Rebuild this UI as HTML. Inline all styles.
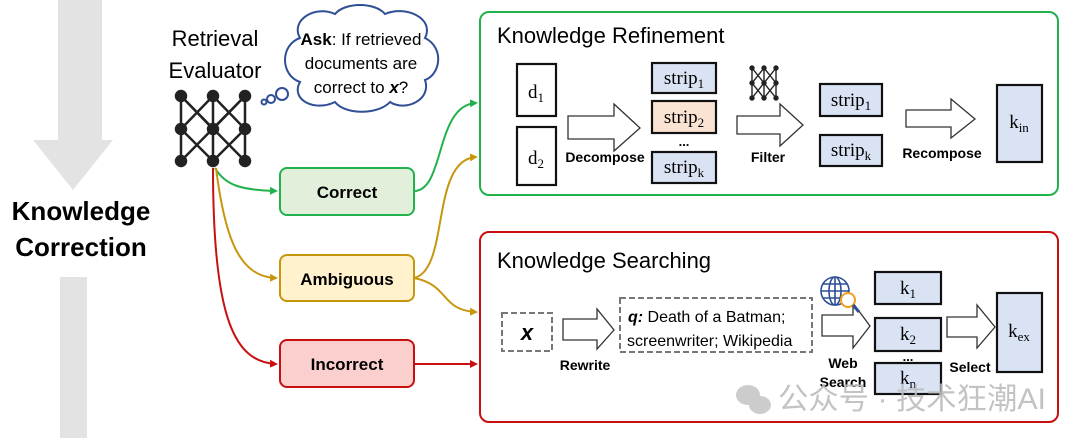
<!DOCTYPE html>
<html><head><meta charset="utf-8"><style>
html,body{margin:0;padding:0;background:#fff;}
svg{display:block;}
text{font-family:"Liberation Sans","Noto Sans CJK SC",sans-serif;}
.s{font-family:"Liberation Serif",serif;font-size:19px;}
.b{font-weight:bold;font-size:14px;}
</style></head><body>
<svg width="1080" height="438" viewBox="0 0 1080 438" xmlns="http://www.w3.org/2000/svg">
<defs>
<marker id="ag" markerWidth="8" markerHeight="8" refX="6" refY="4" orient="auto" markerUnits="userSpaceOnUse"><path d="M0,0 L8,4 L0,8 z" fill="#22b24c"/></marker>
<marker id="ay" markerWidth="8" markerHeight="8" refX="6" refY="4" orient="auto" markerUnits="userSpaceOnUse"><path d="M0,0 L8,4 L0,8 z" fill="#c8960c"/></marker>
<marker id="ar" markerWidth="8" markerHeight="8" refX="6" refY="4" orient="auto" markerUnits="userSpaceOnUse"><path d="M0,0 L8,4 L0,8 z" fill="#c81010"/></marker>
</defs>
<rect x="58" y="0" width="44" height="140" fill="#e3e3e3"/>
<polygon points="33,140 113,140 73,190" fill="#e3e3e3"/>
<rect x="60" y="277" width="27" height="161" fill="#e3e3e3"/>
<text x="81" y="220" font-size="26" font-weight="bold" text-anchor="middle">Knowledge</text>
<text x="81" y="256" font-size="26" font-weight="bold" text-anchor="middle">Correction</text>
<text x="215" y="46" font-size="22" text-anchor="middle">Retrieval</text>
<text x="215" y="78" font-size="22" text-anchor="middle">Evaluator</text>
<g stroke="#222" stroke-width="2.5" fill="#222">
<path d="M181,96 V161 M213,96 V161 M245,96 V161 M181,96 L213,129 L245,96 M181,96 L245,161 M245,96 L181,161 M181,129 L213,96 L245,129 L213,161 L181,129" fill="none"/>
<circle cx="181" cy="96" r="5"/><circle cx="213" cy="96" r="5"/><circle cx="245" cy="96" r="5"/>
<circle cx="181" cy="129" r="5"/><circle cx="213" cy="129" r="5"/><circle cx="245" cy="129" r="5"/>
<circle cx="181" cy="161" r="5"/><circle cx="213" cy="161" r="5"/><circle cx="245" cy="161" r="5"/>
</g>
<g fill="#fff" stroke="#2f4f95" stroke-width="2">
<path d="M300,38 C290,20 315,5 335,14 C345,2 375,2 385,14 C405,5 435,18 425,38 C445,48 440,75 425,80 C432,100 405,112 390,102 C378,115 345,115 335,102 C315,112 290,100 300,82 C280,75 280,45 300,38 z"/>
<circle cx="282" cy="94" r="6"/><circle cx="271" cy="99" r="4"/><circle cx="264" cy="102" r="2.5"/>
</g>
<text x="361" y="45" font-size="17" text-anchor="middle"><tspan font-weight="bold">Ask</tspan>: If retrieved</text>
<text x="361" y="69" font-size="17" text-anchor="middle">documents are</text>
<text x="361" y="93" font-size="17" text-anchor="middle">correct to <tspan font-weight="bold" font-style="italic">x</tspan>?</text>
<path d="M215,168 C225,185 240,190 276,191" fill="none" stroke="#22b24c" stroke-width="2" marker-end="url(#ag)"/>
<path d="M216,168 C225,240 240,277 276,278" fill="none" stroke="#c8960c" stroke-width="2" marker-end="url(#ay)"/>
<path d="M213,168 C213,320 235,362 276,364" fill="none" stroke="#c81010" stroke-width="2" marker-end="url(#ar)"/>
<path d="M414,191 C445,191 435,105 476,103" fill="none" stroke="#22b24c" stroke-width="2" marker-end="url(#ag)"/>
<path d="M414,278 C450,270 430,160 476,157" fill="none" stroke="#c8960c" stroke-width="2" marker-end="url(#ay)"/>
<path d="M414,278 C450,285 440,310 476,312" fill="none" stroke="#c8960c" stroke-width="2" marker-end="url(#ay)"/>
<path d="M414,364 L476,364" fill="none" stroke="#c81010" stroke-width="2" marker-end="url(#ar)"/>
<rect x="280" y="168" width="134" height="47" rx="7" fill="#e2efda" stroke="#22b24c" stroke-width="2"/>
<text x="347" y="198" text-anchor="middle" font-size="17" font-weight="bold">Correct</text>
<rect x="280" y="255" width="134" height="46" rx="7" fill="#fff2cc" stroke="#c8960c" stroke-width="2"/>
<text x="347" y="285" text-anchor="middle" font-size="17" font-weight="bold">Ambiguous</text>
<rect x="280" y="340" width="134" height="47" rx="7" fill="#fccfcf" stroke="#c81010" stroke-width="2"/>
<text x="347" y="370" text-anchor="middle" font-size="17" font-weight="bold">Incorrect</text>
<rect x="480" y="12" width="578" height="183" rx="9" fill="none" stroke="#22b24c" stroke-width="2"/>
<text x="497" y="43" font-size="22">Knowledge Refinement</text>
<g stroke="#111" stroke-width="2.2">
<rect x="517" y="64" width="39" height="52" fill="#fff"/>
<rect x="517" y="127" width="39" height="58" fill="#fff"/>
<rect x="652" y="63" width="64" height="30" fill="#dae3f3"/>
<rect x="652" y="101" width="64" height="32" fill="#fbe3d4"/>
<rect x="652" y="152" width="64" height="31" fill="#dae3f3"/>
<rect x="820" y="84" width="62" height="32" fill="#dae3f3"/>
<rect x="820" y="135" width="62" height="31" fill="#dae3f3"/>
<rect x="997" y="85" width="45" height="77" fill="#dae3f3"/>
</g>
<text class="s" x="536" y="98" text-anchor="middle">d<tspan font-size="13" dy="4">1</tspan></text>
<text class="s" x="536" y="164" text-anchor="middle">d<tspan font-size="13" dy="4">2</tspan></text>
<text class="s" x="684" y="84" text-anchor="middle">strip<tspan font-size="13" dy="4">1</tspan></text>
<text class="s" x="684" y="123" text-anchor="middle">strip<tspan font-size="13" dy="4">2</tspan></text>
<text x="684" y="146" font-size="13" font-weight="bold" text-anchor="middle">...</text>
<text class="s" x="684" y="173" text-anchor="middle">strip<tspan font-size="13" dy="4">k</tspan></text>
<text class="s" x="851" y="106" text-anchor="middle">strip<tspan font-size="13" dy="4">1</tspan></text>
<text class="s" x="851" y="156" text-anchor="middle">strip<tspan font-size="13" dy="4">k</tspan></text>
<text class="s" x="1019" y="128" text-anchor="middle">k<tspan font-size="13" dy="4">in</tspan></text>
<g fill="#fff" stroke="#333" stroke-width="1.3">
<polygon points="568,116 614,116 614,104 640,128 614,151 614,139 568,139"/>
<polygon points="737,116 780,116 780,104 803,125 780,146 780,134 737,134"/>
<polygon points="906,110 951,110 951,99 975,119 951,138 951,127 906,127"/>
</g>
<text class="b" x="605" y="162" text-anchor="middle">Decompose</text>
<text class="b" x="768" y="162" text-anchor="middle">Filter</text>
<text class="b" x="942" y="158" text-anchor="middle">Recompose</text>
<g stroke="#222" stroke-width="1.4" fill="#222">
<path d="M752,68 V98 M764,68 V98 M776,68 V98 M752,68 L776,98 M776,68 L752,98 M752,83 L764,68 L776,83 L764,98 z" fill="none"/>
<circle cx="752" cy="68" r="2"/><circle cx="764" cy="68" r="2"/><circle cx="776" cy="68" r="2"/>
<circle cx="752" cy="83" r="2"/><circle cx="764" cy="83" r="2"/><circle cx="776" cy="83" r="2"/>
<circle cx="752" cy="98" r="2"/><circle cx="764" cy="98" r="2"/><circle cx="776" cy="98" r="2"/>
</g>
<rect x="480" y="232" width="578" height="190" rx="9" fill="none" stroke="#c81010" stroke-width="2"/>
<text x="497" y="268" font-size="22">Knowledge Searching</text>
<rect x="502" y="313" width="50" height="38" fill="#fff" stroke="#777" stroke-width="2" stroke-dasharray="6,3"/>
<text x="527" y="340" font-size="22" font-weight="bold" font-style="italic" text-anchor="middle">x</text>
<rect x="620" y="298" width="192" height="54" fill="#fff" stroke="#777" stroke-width="2" stroke-dasharray="6,3"/>
<text x="628" y="322" font-size="16"><tspan font-weight="bold" font-style="italic">q:</tspan> Death of a Batman;</text>
<text x="627" y="346" font-size="16">screenwriter; Wikipedia</text>
<g fill="#fff" stroke="#333" stroke-width="1.3">
<polygon points="563,319 597,319 597,309 614,330 597,349 597,340 563,340"/>
<polygon points="822,315 853,315 853,303 870,326 853,348 853,336 822,336"/>
<polygon points="947,317 977,317 977,305 995,327 977,348 977,337 947,337"/>
</g>
<text class="b" x="585" y="370" text-anchor="middle">Rewrite</text>
<text class="b" x="843" y="368" text-anchor="middle">Web</text>
<text class="b" x="843" y="387" text-anchor="middle">Search</text>
<text class="b" x="970" y="372" text-anchor="middle">Select</text>
<g fill="none" stroke="#2f4f95" stroke-width="1.6">
<circle cx="835" cy="291" r="14"/><ellipse cx="835" cy="291" rx="6" ry="14"/><path d="M821,291 H849 M823,284 H847 M823,298 H847 M835,277 V305"/>
</g>
<circle cx="848" cy="300" r="7" fill="#fff" stroke="#f0a020" stroke-width="2"/>
<path d="M853,305 L859,312" stroke="#2f4f95" stroke-width="3"/>
<g stroke="#111" stroke-width="2.2" fill="#dae3f3">
<rect x="875" y="272" width="66" height="32"/>
<rect x="875" y="318" width="66" height="33"/>
<rect x="875" y="363" width="66" height="31"/>
<rect x="997" y="293" width="45" height="79"/>
</g>
<text class="s" x="908" y="294" text-anchor="middle">k<tspan font-size="13" dy="4">1</tspan></text>
<text class="s" x="908" y="340" text-anchor="middle">k<tspan font-size="13" dy="4">2</tspan></text>
<text x="908" y="361" font-size="13" font-weight="bold" text-anchor="middle">...</text>
<text class="s" x="908" y="384" text-anchor="middle">k<tspan font-size="13" dy="4">n</tspan></text>
<text class="s" x="1019" y="337" text-anchor="middle">k<tspan font-size="13" dy="4">ex</tspan></text>
<g fill="#c4c4c4" opacity="0.85">
<ellipse cx="748" cy="395" rx="12" ry="10"/><ellipse cx="760" cy="405" rx="11" ry="9"/>
</g>
<text x="778" y="409" font-size="30" fill="#bdbdbd" opacity="0.9" textLength="268" lengthAdjust="spacingAndGlyphs">公众号 · 技术狂潮AI</text>
</svg>
</body></html>
